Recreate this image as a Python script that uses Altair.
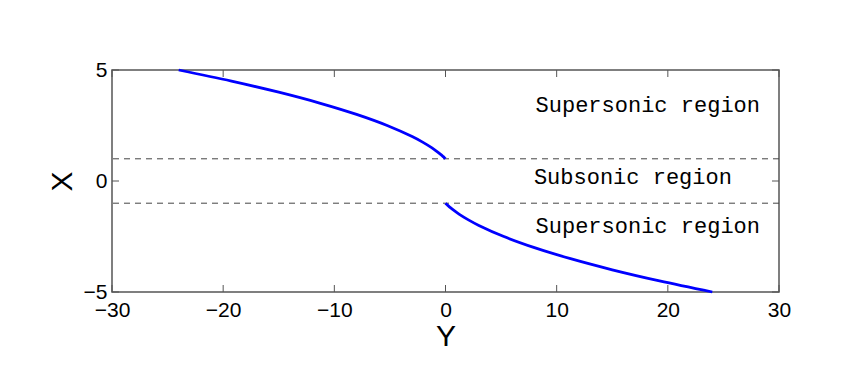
import altair as alt
import pandas as pd

# Curve values (axis "Y" horizontal, axis "X" vertical)
upper_X = [1.0, 1.05, 1.1, 1.2, 1.35, 1.5, 1.75, 2.0, 2.5, 3.0, 3.5, 4.0, 4.5, 5.0]
upper_Y = [0.0, -0.1, -0.21, -0.44, -0.82, -1.25, -2.06, -3.0, -5.25, -8.0, -11.25, -15.0, -19.25, -24.0]
lower_X = [-1.0, -1.05, -1.1, -1.2, -1.35, -1.5, -1.75, -2.0, -2.5, -3.0, -3.5, -4.0, -4.5, -5.0]
lower_Y = [0.0, 0.1, 0.21, 0.44, 0.82, 1.25, 2.06, 3.0, 5.25, 8.0, 11.25, 15.0, 19.25, 24.0]

boundary_X = [1, -1]

label_text = ["Supersonic region", "Subsonic region", "Supersonic region"]
label_Y = [8.1, 7.95, 8.1]
label_X = [3.1, -0.13, -2.35]

x_ticks = [-30, -20, -10, 0, 10, 20, 30]
y_ticks = [-5, 0, 5]

W, H = 667, 222

rows = []
for i, (xv, yv) in enumerate(zip(upper_X, upper_Y)):
    rows.append({"branch": "upper", "i": i, "X": xv, "Y": yv})
for i, (xv, yv) in enumerate(zip(lower_X, lower_Y)):
    rows.append({"branch": "lower", "i": i, "X": xv, "Y": yv})
curve_df = pd.DataFrame(rows)

xs = alt.Scale(domain=[-30, 30], nice=False, zero=False)
ys = alt.Scale(domain=[-5, 5], nice=False, zero=False)

x_axis = alt.Axis(values=x_ticks, ticks=False, domain=False, grid=False,
                  labelFontSize=21, labelPadding=7, labelColor="black",
                  labelFont="Liberation Sans", title="Y", titleFont="Liberation Sans",
                  titleFontSize=30, titleFontWeight="normal", titleColor="black",
                  titleX=W / 2, titleY=53, titleBaseline="alphabetic", titleAlign="center",
                  labelFlush=False, labelOverlap=False)
y_axis = alt.Axis(values=y_ticks, ticks=False, domain=False, grid=False,
                  labelFontSize=21, labelPadding=5, labelColor="black",
                  labelFont="Liberation Sans", title="X", titleFont="Liberation Sans",
                  titleFontSize=30, titleFontWeight="normal", titleColor="black",
                  titleX=-41, titleY=H / 2, titleAngle=270, titleBaseline="alphabetic",
                  titleAlign="center", labelFlush=False, labelOverlap=False)

curve = alt.Chart(curve_df).mark_line(color="#0000ff", strokeWidth=2.8, interpolate="catmull-rom").encode(
    x=alt.X("Y:Q", scale=xs, axis=x_axis),
    y=alt.Y("X:Q", scale=ys, axis=y_axis),
    detail="branch:N",
    order="i:Q",
)

dashes = alt.Chart(pd.DataFrame({"X": boundary_X})).mark_rule(
    color="#444444", strokeWidth=1, strokeDash=[6, 5]
).encode(y=alt.Y("X:Q", scale=ys))

labels = alt.Chart(pd.DataFrame({"t": label_text, "Y": label_Y, "X": label_X})).mark_text(
    font="Courier New, Liberation Mono, monospace", fontSize=22, align="left",
    baseline="alphabetic", color="black"
).encode(x=alt.X("Y:Q", scale=xs), y=alt.Y("X:Q", scale=ys), text="t:N")

xt = pd.DataFrame({"t": x_ticks})
yt = pd.DataFrame({"t": y_ticks})
tick_color = "#555555"
ticks_bottom = alt.Chart(xt).mark_rule(color=tick_color, strokeWidth=1).encode(
    x=alt.X("t:Q", scale=xs), y=alt.value(H - 7), y2=alt.value(H))
ticks_top = alt.Chart(xt).mark_rule(color=tick_color, strokeWidth=1).encode(
    x=alt.X("t:Q", scale=xs), y=alt.value(0), y2=alt.value(7))
ticks_left = alt.Chart(yt).mark_rule(color=tick_color, strokeWidth=1).encode(
    y=alt.Y("t:Q", scale=ys), x=alt.value(0), x2=alt.value(7))
ticks_right = alt.Chart(yt).mark_rule(color=tick_color, strokeWidth=1).encode(
    y=alt.Y("t:Q", scale=ys), x=alt.value(W - 7), x2=alt.value(W))

chart = alt.layer(
    dashes, curve, labels, ticks_bottom, ticks_top, ticks_left, ticks_right
).properties(
    width=W, height=H,
    background="white",
    autosize=alt.AutoSizeParams(type="none"),
    padding={"left": 104, "top": 62, "right": 70, "bottom": 70},
).configure_view(
    stroke="#555555", strokeWidth=1.5
)

chart.save("out.html", embed_options={"renderer": "svg", "actions": False})
